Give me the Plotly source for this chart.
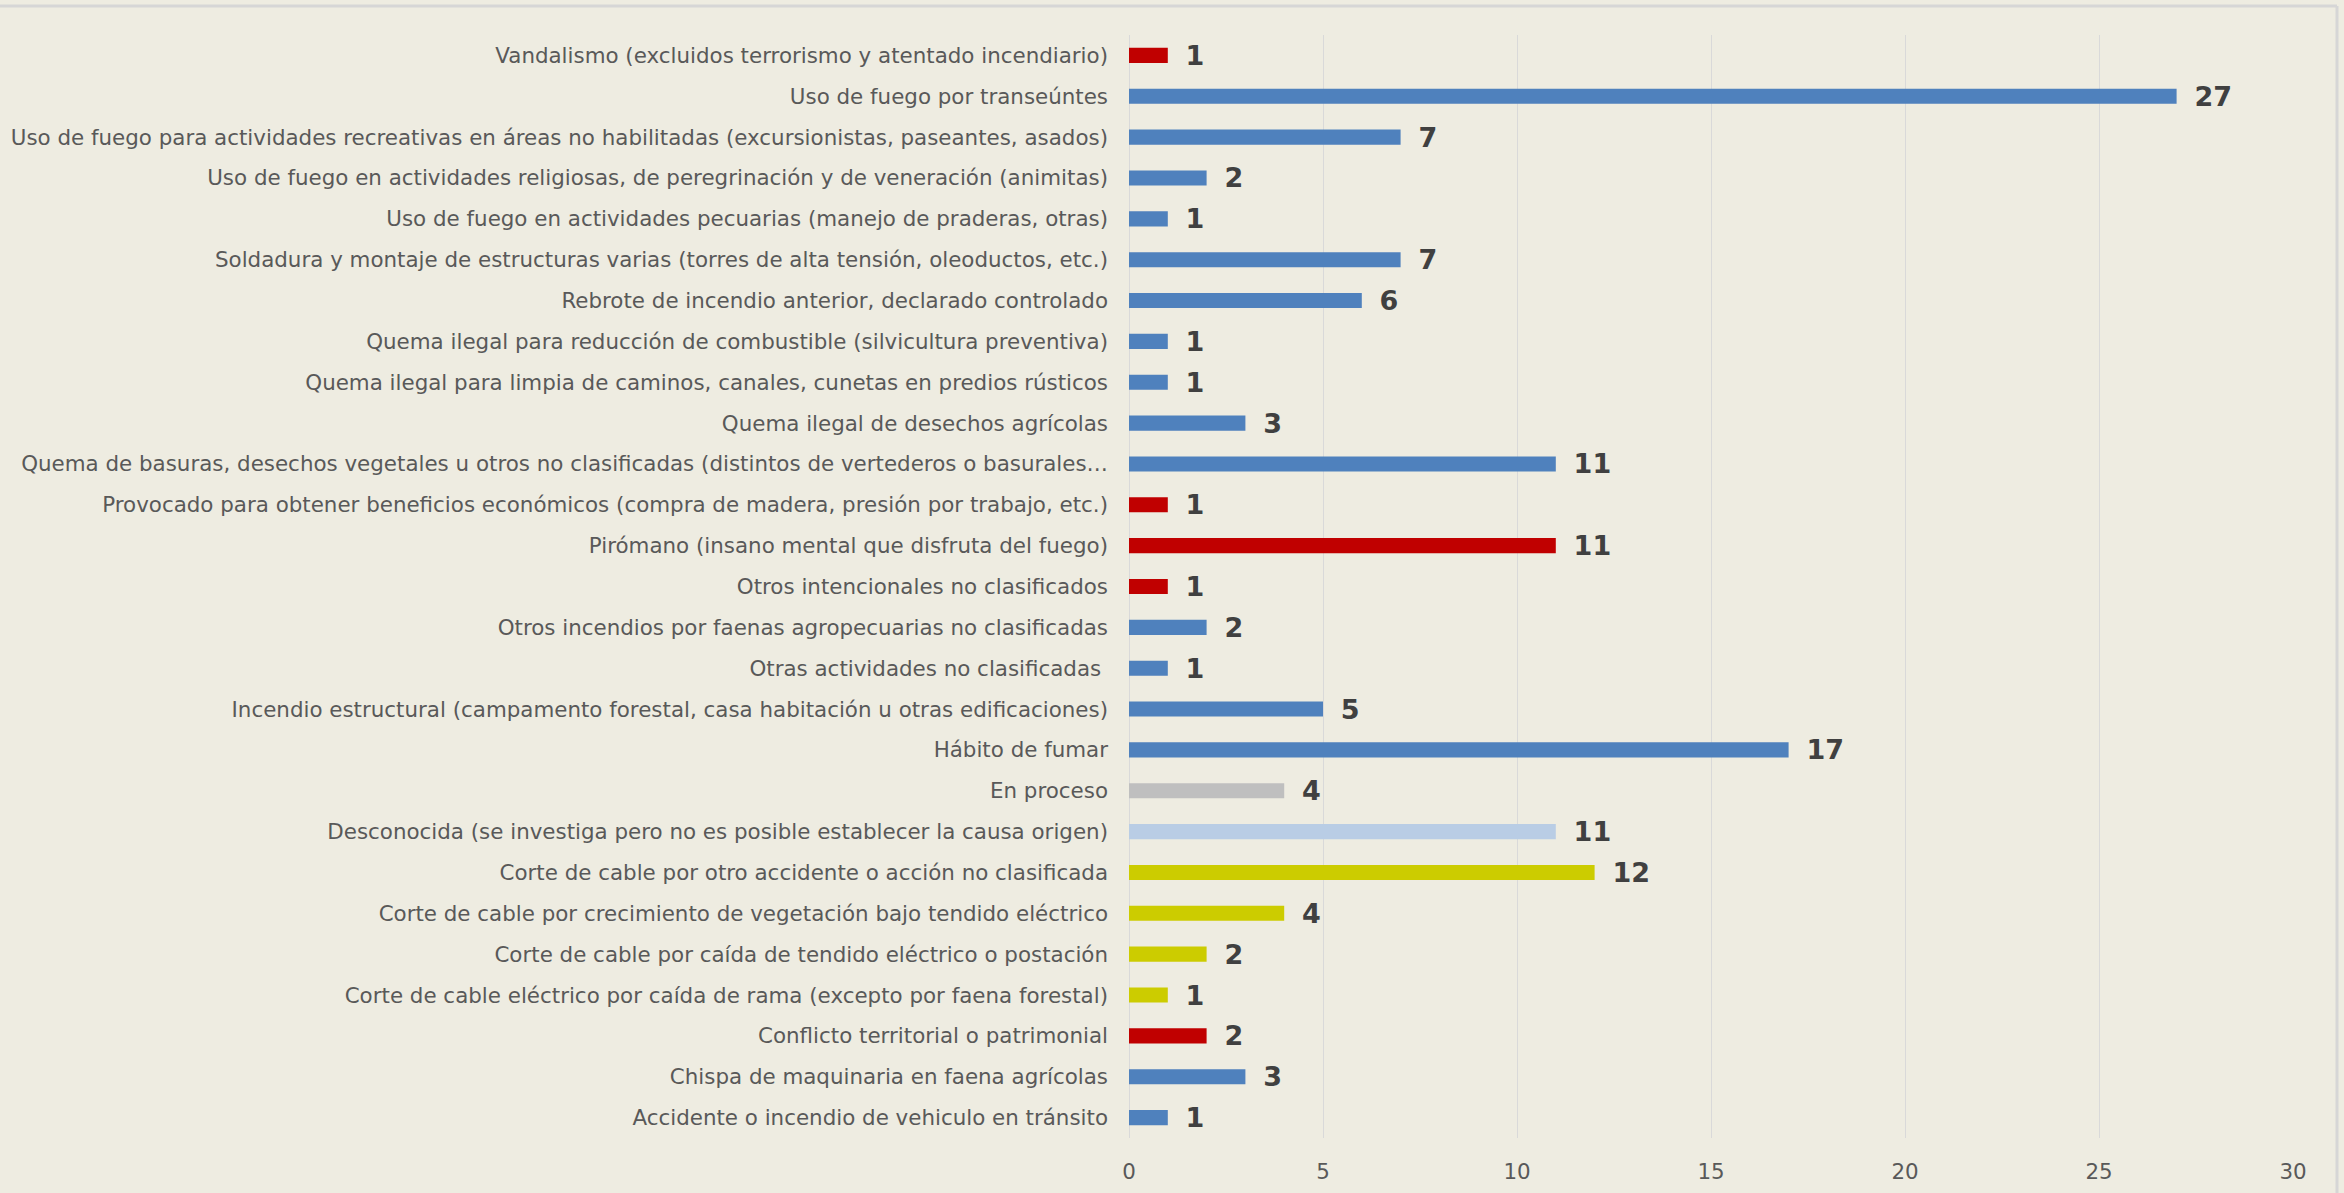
import plotly.graph_objects as go

# --- datos (de abajo hacia arriba, como en el gráfico original) ---
causas = [
    "Accidente o incendio de vehiculo en tránsito",
    "Chispa de maquinaria en faena agrícolas",
    "Conflicto territorial o patrimonial",
    "Corte de cable eléctrico por caída de rama (excepto por faena forestal)",
    "Corte de cable por caída de tendido eléctrico o postación",
    "Corte de cable por crecimiento de vegetación bajo tendido eléctrico",
    "Corte de cable por otro accidente o acción no clasificada",
    "Desconocida (se investiga pero no es posible establecer la causa origen)",
    "En proceso",
    "Hábito de fumar",
    "Incendio estructural (campamento forestal, casa habitación u otras edificaciones)",
    "Otras actividades no clasificadas ",
    "Otros incendios por faenas agropecuarias no clasificadas",
    "Otros intencionales no clasificados",
    "Pirómano (insano mental que disfruta del fuego)",
    "Provocado para obtener beneficios económicos (compra de madera, presión por trabajo, etc.)",
    "Quema de basuras, desechos vegetales u otros no clasificadas (distintos de vertederos o basurales…",
    "Quema ilegal de desechos agrícolas",
    "Quema ilegal para limpia de caminos, canales, cunetas en predios rústicos",
    "Quema ilegal para reducción de combustible (silvicultura preventiva)",
    "Rebrote de incendio anterior, declarado controlado",
    "Soldadura y montaje de estructuras varias (torres de alta tensión, oleoductos, etc.)",
    "Uso de fuego en actividades pecuarias (manejo de praderas, otras)",
    "Uso de fuego en actividades religiosas, de peregrinación y de veneración (animitas)",
    "Uso de fuego para actividades recreativas en áreas no habilitadas (excursionistas, paseantes, asados)",
    "Uso de fuego por transeúntes",
    "Vandalismo (excluidos terrorismo y atentado incendiario)",
]
incendios = [1, 3, 2, 1, 2, 4, 12, 11, 4, 17, 5, 1, 2, 1, 11, 1, 11, 3, 1, 1, 6, 7, 1, 2, 7, 27, 1]
grupo = [
    "Accidental", "Accidental", "Intencional", "Eléctrico", "Eléctrico", "Eléctrico", "Eléctrico",
    "Desconocida", "En proceso", "Accidental", "Accidental", "Accidental", "Accidental",
    "Intencional", "Intencional", "Intencional", "Accidental", "Accidental", "Accidental",
    "Accidental", "Accidental", "Accidental", "Accidental", "Accidental", "Accidental",
    "Accidental", "Intencional",
]
ticks_x = [0, 5, 10, 15, 20, 25, 30]

# --- estilo ---
colores_grupo = {
    "Accidental": "#4F81BD",
    "Intencional": "#C00000",
    "Eléctrico": "#CCCC00",
    "Desconocida": "#B9CDE5",
    "En proceso": "#BFBFBF",
}
bar_colors = [colores_grupo[g] for g in grupo]

W, H = 2344, 1193
ML, MR, MT, MB = 1129, 51, 35, 55
fondo = "#EEECE1"

fig = go.Figure(go.Bar(
    x=incendios,
    y=causas,
    orientation="h",
    marker=dict(color=bar_colors, line=dict(width=0)),
    text=incendios,
    texttemplate=" \u2009%{x}",
    textposition="outside",
    constraintext="none",
    textfont=dict(family="DejaVu Sans", size=27, color="#404040", weight="bold"),
    cliponaxis=False,
))

fig.update_layout(
    width=W, height=H,
    margin=dict(l=ML, r=MR, t=MT, b=MB, autoexpand=False),
    paper_bgcolor=fondo,
    plot_bgcolor=fondo,
    bargap=0.63,
    showlegend=False,
    font=dict(family="DejaVu Sans", size=21.4, color="#595959"),
)
fig.update_xaxes(
    range=[0, 30], tickvals=ticks_x, automargin=False,
    showgrid=True, gridcolor="#D9D9D9", gridwidth=1,
    zeroline=True, zerolinecolor="#D9D9D9", zerolinewidth=1,
    showline=False, ticks="",
    tickfont=dict(size=21.4, color="#595959"),
    ticklabelstandoff=19,
)
fig.update_yaxes(
    type="category", categoryorder="array", categoryarray=causas,
    automargin=False,
    showgrid=False, showline=False, ticks="",
    ticklabelstandoff=20,
    tickfont=dict(size=21.4, color="#595959"),
)

# borde del gráfico: solo arriba y a la derecha se ve
pw = W - ML - MR
ph = H - MT - MB
x_izq = -ML / pw
x_der = (pw + MR - 7) / pw
y_arr = (ph + MT - 6) / ph
y_aba = -MB / ph
fig.add_shape(type="line", xref="paper", yref="paper",
              x0=x_izq, x1=x_der, y0=y_arr, y1=y_arr,
              line=dict(color="#D6D6D6", width=3), layer="below")
fig.add_shape(type="line", xref="paper", yref="paper",
              x0=x_der, x1=x_der, y0=y_aba, y1=y_arr,
              line=dict(color="#D6D6D6", width=3), layer="below")

# sin margen del body para que la figura empiece en (0, 0)
fig.write_html("out.html", config={"displayModeBar": False},
               post_script="document.body.style.margin='0';")
